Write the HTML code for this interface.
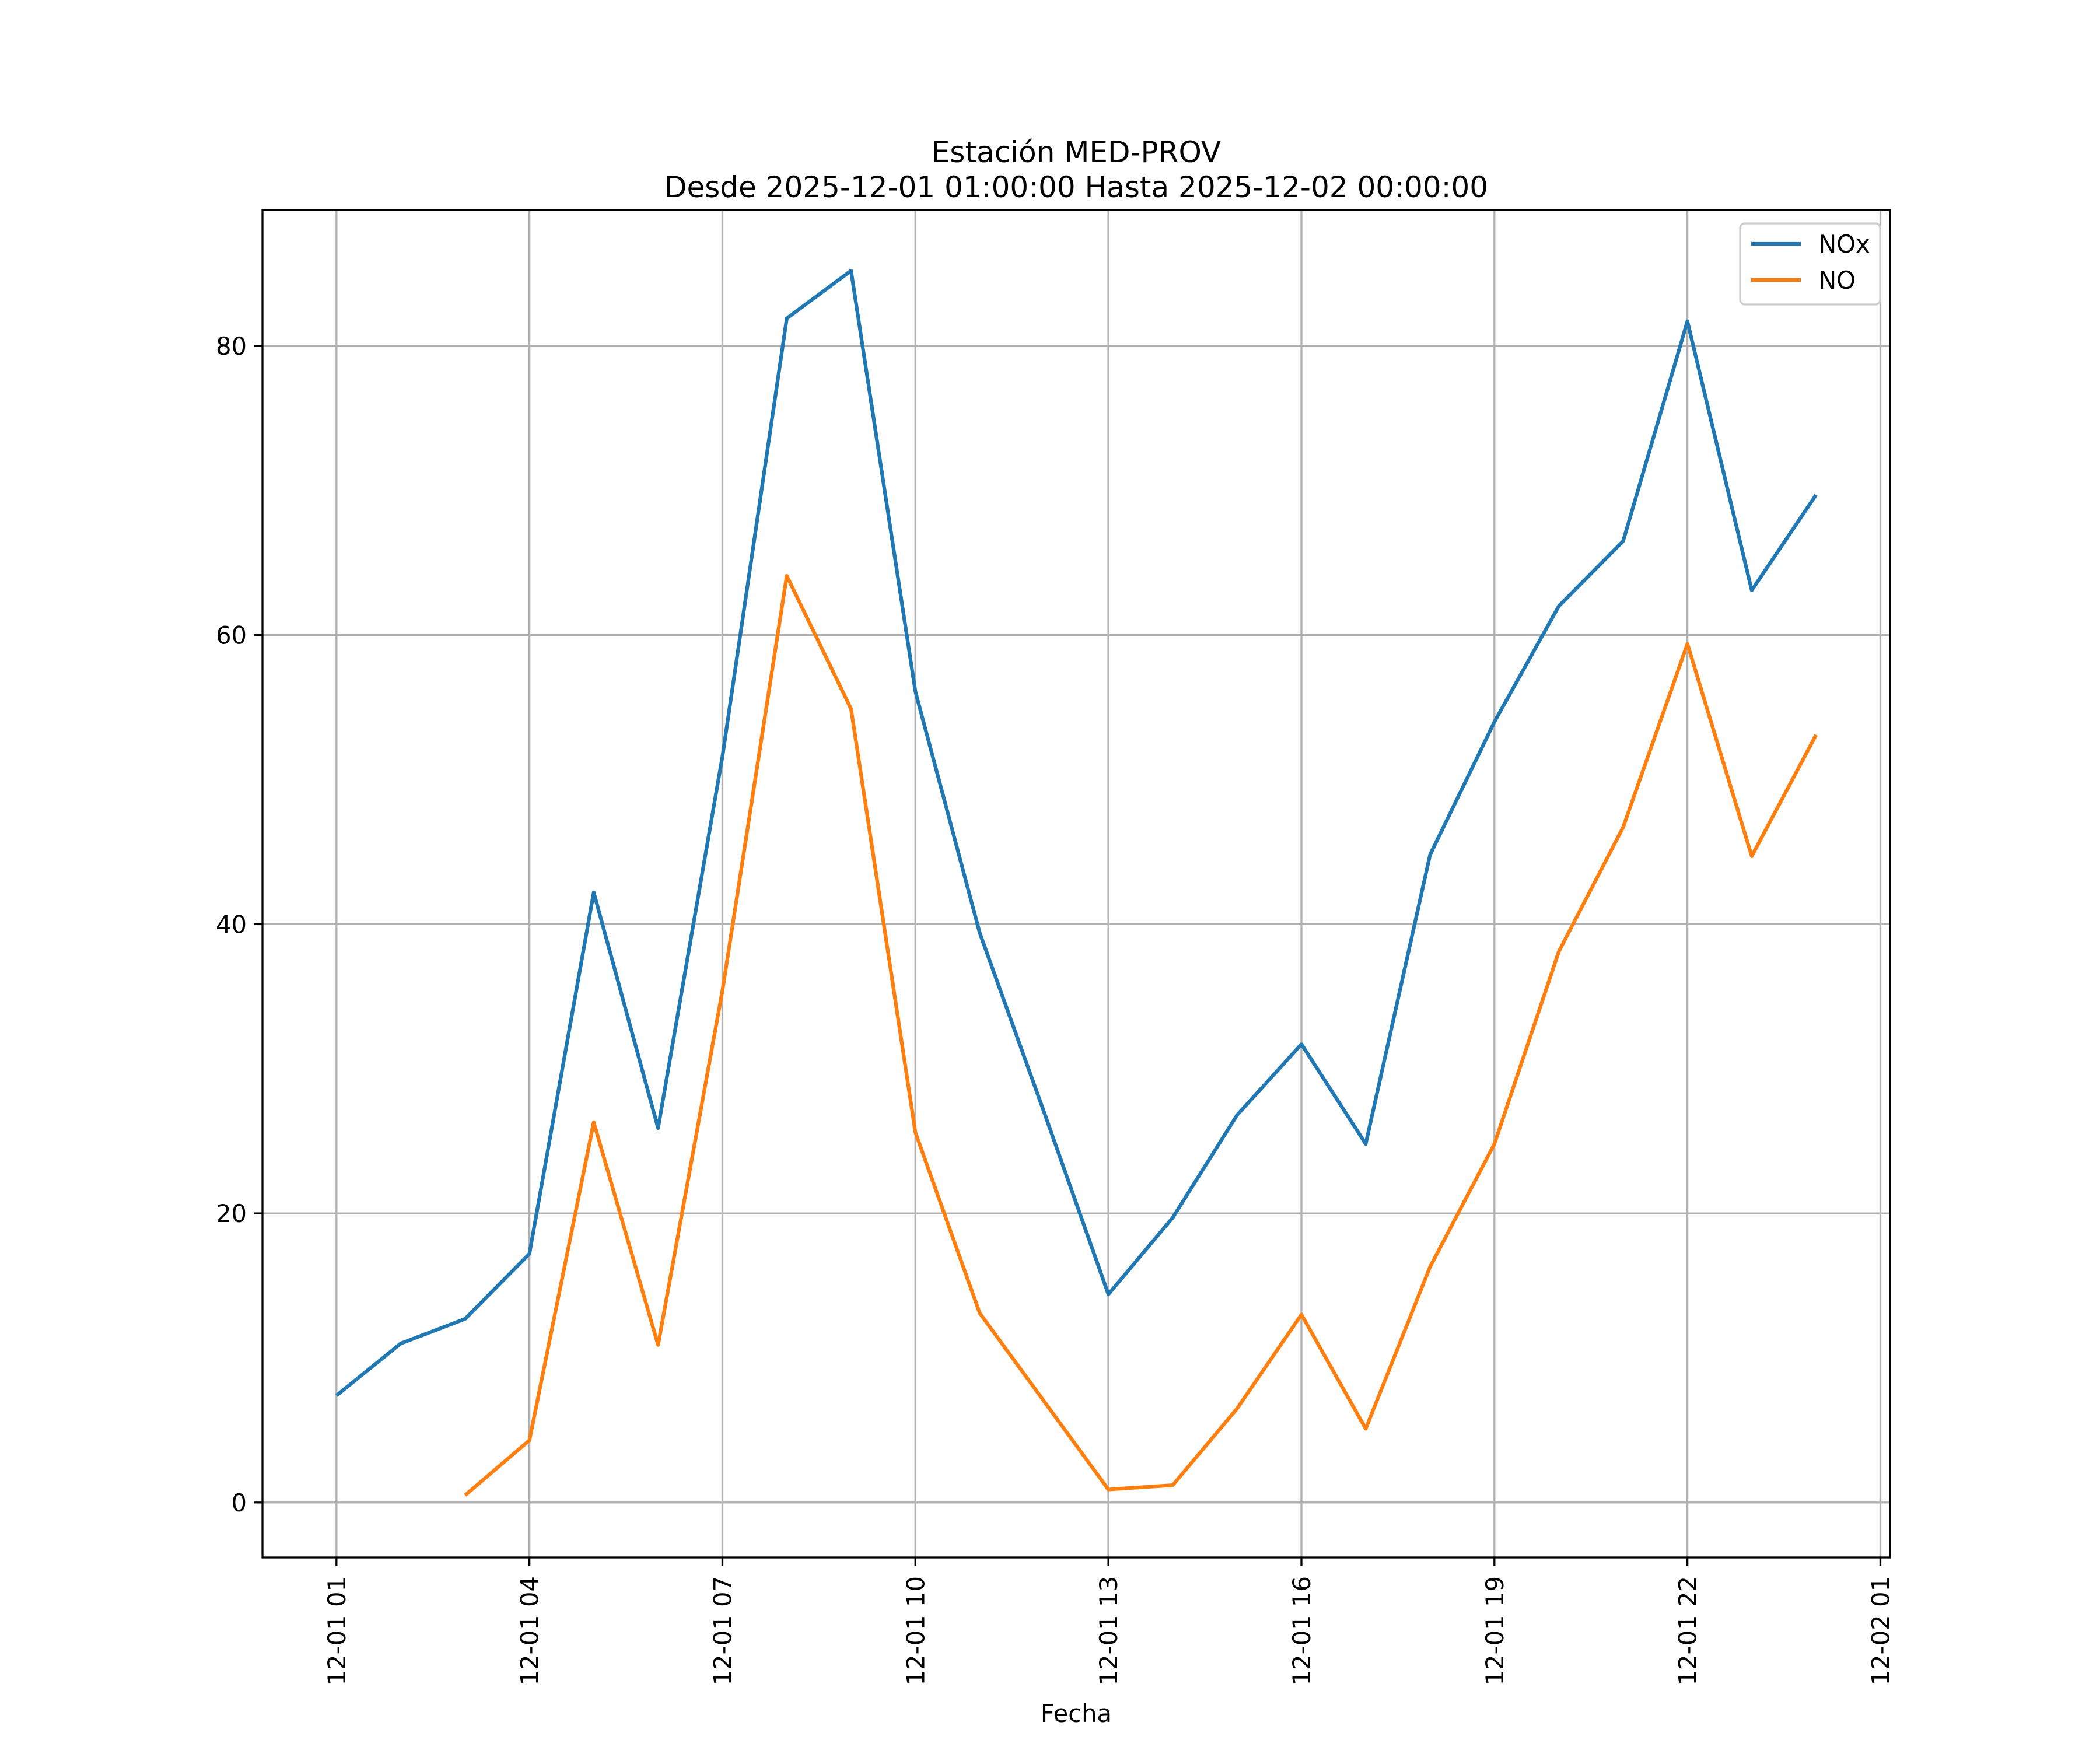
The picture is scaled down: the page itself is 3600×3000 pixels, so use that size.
<!DOCTYPE html>
<html><head><meta charset="utf-8"><style>
html,body{margin:0;padding:0;background:#fff;}
svg{display:block;font-family:"DejaVu Sans","Liberation Sans",sans-serif;}
</style></head><body>
<svg id="chart" width="3600" height="3000" viewBox="0 0 3600 3000" xmlns="http://www.w3.org/2000/svg">
<rect width="3600" height="3000" fill="#fff"/>
<text x="1845" y="278" text-anchor="middle" font-size="50">Estación MED-PROV</text>
<text x="1845" y="338" text-anchor="middle" font-size="50">Desde 2025-12-01 01:00:00 Hasta 2025-12-02 00:00:00</text>
<g id="grid"></g>
<g id="series"></g>
<rect x="450" y="360" width="2790" height="2310" fill="none" stroke="#000" stroke-width="3.3"/>
<g id="axes"></g>
<text x="1845" y="2952" text-anchor="middle" font-size="41.7">Fecha</text>
<g>
<rect x="2983" y="383" width="240" height="139" rx="8" fill="#fff" fill-opacity="0.8" stroke="#ccc" stroke-width="3.3"/>
<line x1="3002" y1="418" x2="3087" y2="418" stroke="#1f77b4" stroke-width="6.25"/>
<text x="3117" y="433" font-size="41.7">NOx</text>
<line x1="3002" y1="480" x2="3087" y2="480" stroke="#ff7f0e" stroke-width="6.25"/>
<text x="3117" y="495" font-size="41.7">NO</text>
</g>
</svg>
<script>
const hours = [1,2,3,4,5,6,7,8,9,10,11,12,13,14,15,16,17,18,19,20,21,22,23,24];
const noxValues = [7.4,11.0,12.7,17.2,42.2,25.9,51.6,81.9,85.2,56.1,39.4,27.0,14.4,19.7,26.8,31.7,24.8,44.8,54.0,62.0,66.5,81.7,63.1,69.7];
const noValues = [null,null,0.5,4.3,26.3,10.9,35.4,64.1,54.9,25.6,13.1,7.0,0.9,1.2,6.5,13.0,5.1,16.3,24.8,38.1,46.7,59.4,44.7,53.1];
const xTickHours = [1,4,7,10,13,16,19,22,25];
const xTickLabels = ["12-01 01","12-01 04","12-01 07","12-01 10","12-01 13","12-01 16","12-01 19","12-01 22","12-02 01"];
const yTicks = [0,20,40,60,80];

const L=450,R=3240,T=360,B=2670;
const xMin=1-1.15, xMax=24+1.15, yMin=-3.8, yMax=89.4;
const xs=h=>L+(h-xMin)/(xMax-xMin)*(R-L);
const ys=v=>B-(v-yMin)/(yMax-yMin)*(B-T);
const NS="http://www.w3.org/2000/svg";
function mk(tag,attrs,parent){const e=document.createElementNS(NS,tag);for(const k in attrs)e.setAttribute(k,attrs[k]);parent.appendChild(e);return e;}
const grid=document.getElementById('grid'),axes=document.getElementById('axes'),series=document.getElementById('series');
xTickHours.forEach((h,i)=>{
  const x=xs(h);
  const g=mk('line',{x1:x,y1:T,x2:x,y2:B,stroke:'#b0b0b0','stroke-width':3.3},grid);
  
  
  const t=mk('line',{x1:x,y1:B,x2:x,y2:B+14.6,stroke:'#000','stroke-width':3.3},axes);
  
  
  const lb=mk('text',{x:x+15,y:2702,'text-anchor':'end','font-size':41.7,transform:`rotate(-90 ${x+15} 2702)`},axes);
  lb.textContent=xTickLabels[i];
  
  
});
yTicks.forEach(v=>{
  const y=ys(v);
  const g=mk('line',{x1:L,y1:y,x2:R,y2:y,stroke:'#b0b0b0','stroke-width':3.3},grid);
  
  
  const t=mk('line',{x1:L-14.6,y1:y,x2:L,y2:y,stroke:'#000','stroke-width':3.3},axes);
  
  
  const lb=mk('text',{x:L-27,y:y+15,'text-anchor':'end','font-size':41.7},axes);
  lb.textContent=String(v);
  
  
});
function path(vals){let d='',pen=false;vals.forEach((v,i)=>{if(v==null){pen=false;return;}d+=(pen?'L':'M')+xs(hours[i]).toFixed(1)+','+ys(v).toFixed(1);pen=true;});return d;}
const p1=mk('path',{d:path(noxValues),fill:'none',stroke:'#1f77b4','stroke-width':6.25,'stroke-linejoin':'round'},series);


const p2=mk('path',{d:path(noValues),fill:'none',stroke:'#ff7f0e','stroke-width':6.25,'stroke-linejoin':'round'},series);


</script>
</body></html>
